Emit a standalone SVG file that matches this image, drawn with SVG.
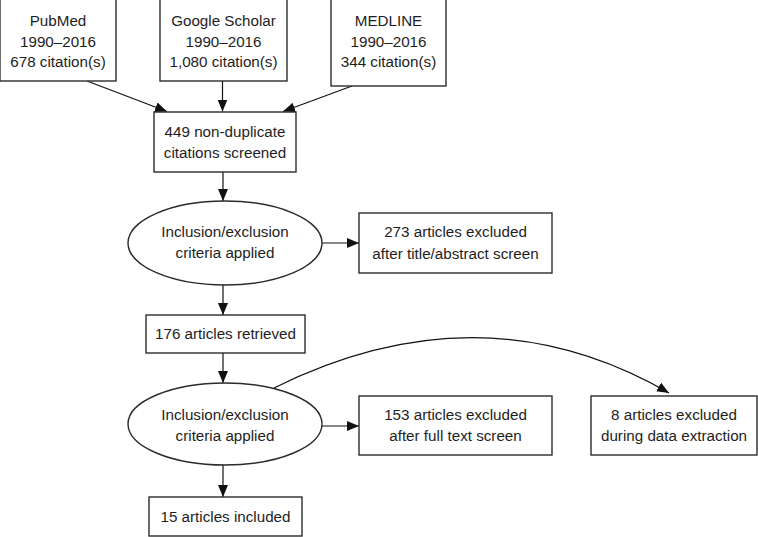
<svg xmlns="http://www.w3.org/2000/svg" width="758" height="537" viewBox="0 0 758 537">
<defs>
<style>
.box{fill:#fff;stroke:#2b2b2b;stroke-width:1.4}
.t{font-family:"Liberation Sans",Arial,sans-serif;font-size:15.2px;fill:#1e1e1e;text-anchor:middle}
.c{fill:none;stroke:#111;stroke-width:1.2}
</style>
<marker id="ah" markerUnits="userSpaceOnUse" markerWidth="13" markerHeight="11" refX="12" refY="5" orient="auto">
<path d="M0,0 L12,5 L0,10 z" fill="#111"/>
</marker>
</defs>
<rect width="758" height="537" fill="#fff"/>
<g id="connectors">
<line class="c" x1="87" y1="81" x2="167" y2="111.5" marker-end="url(#ah)"/>
<line class="c" x1="222.5" y1="81" x2="222.5" y2="111.5" marker-end="url(#ah)"/>
<line class="c" x1="352" y1="86" x2="283" y2="111.5" marker-end="url(#ah)"/>
<line class="c" x1="223" y1="172" x2="223" y2="201" marker-end="url(#ah)"/>
<line class="c" x1="322" y1="243" x2="359" y2="243" marker-end="url(#ah)"/>
<line class="c" x1="223" y1="285" x2="223" y2="315" marker-end="url(#ah)"/>
<line class="c" x1="223" y1="353" x2="223" y2="383" marker-end="url(#ah)"/>
<line class="c" x1="322" y1="426" x2="359" y2="426" marker-end="url(#ah)"/>
<path class="c" d="M274,388 Q482,285 669,393" marker-end="url(#ah)"/>
<line class="c" x1="223" y1="465" x2="223" y2="497" marker-end="url(#ah)"/>
</g>
<g id="pubmed">
<rect class="box" x="0" y="-1" width="116" height="82"/>
<text class="t" x="58" y="26">PubMed</text>
<text class="t" x="58" y="46.5">1990–2016</text>
<text class="t" x="58" y="67">678 citation(s)</text>
</g>
<g id="scholar">
<rect class="box" x="160" y="-1" width="127" height="82"/>
<text class="t" x="223.5" y="26">Google Scholar</text>
<text class="t" x="223.5" y="46.5">1990–2016</text>
<text class="t" x="223.5" y="67">1,080 citation(s)</text>
</g>
<g id="medline">
<rect class="box" x="331" y="-1" width="115" height="87"/>
<text class="t" x="388.5" y="26">MEDLINE</text>
<text class="t" x="388.5" y="46.5">1990–2016</text>
<text class="t" x="388.5" y="67">344 citation(s)</text>
</g>
<g id="screened">
<rect class="box" x="154" y="112" width="142" height="60"/>
<text class="t" x="225" y="137">449 non-duplicate</text>
<text class="t" x="225" y="158">citations screened</text>
</g>
<g id="criteria1">
<ellipse class="box" cx="225" cy="243" rx="97" ry="42"/>
<text class="t" x="225" y="237">Inclusion/exclusion</text>
<text class="t" x="225" y="258">criteria applied</text>
</g>
<g id="excluded273">
<rect class="box" x="359" y="213" width="193" height="60"/>
<text class="t" x="455.5" y="237">273 articles excluded</text>
<text class="t" x="455.5" y="259">after title/abstract screen</text>
</g>
<g id="retrieved">
<rect class="box" x="146" y="315" width="159" height="38"/>
<text class="t" x="225.5" y="339">176 articles retrieved</text>
</g>
<g id="criteria2">
<ellipse class="box" cx="225" cy="424" rx="97" ry="41"/>
<text class="t" x="225" y="420">Inclusion/exclusion</text>
<text class="t" x="225" y="441">criteria applied</text>
</g>
<g id="excluded153">
<rect class="box" x="359" y="396" width="193" height="59"/>
<text class="t" x="455.5" y="420">153 articles excluded</text>
<text class="t" x="455.5" y="441">after full text screen</text>
</g>
<g id="excluded8">
<rect class="box" x="591" y="396" width="166" height="59"/>
<text class="t" x="674" y="420">8 articles excluded</text>
<text class="t" x="674" y="441">during data extraction</text>
</g>
<g id="included">
<rect class="box" x="149" y="497" width="153" height="39"/>
<text class="t" x="225.5" y="522">15 articles included</text>
</g>
</svg>
